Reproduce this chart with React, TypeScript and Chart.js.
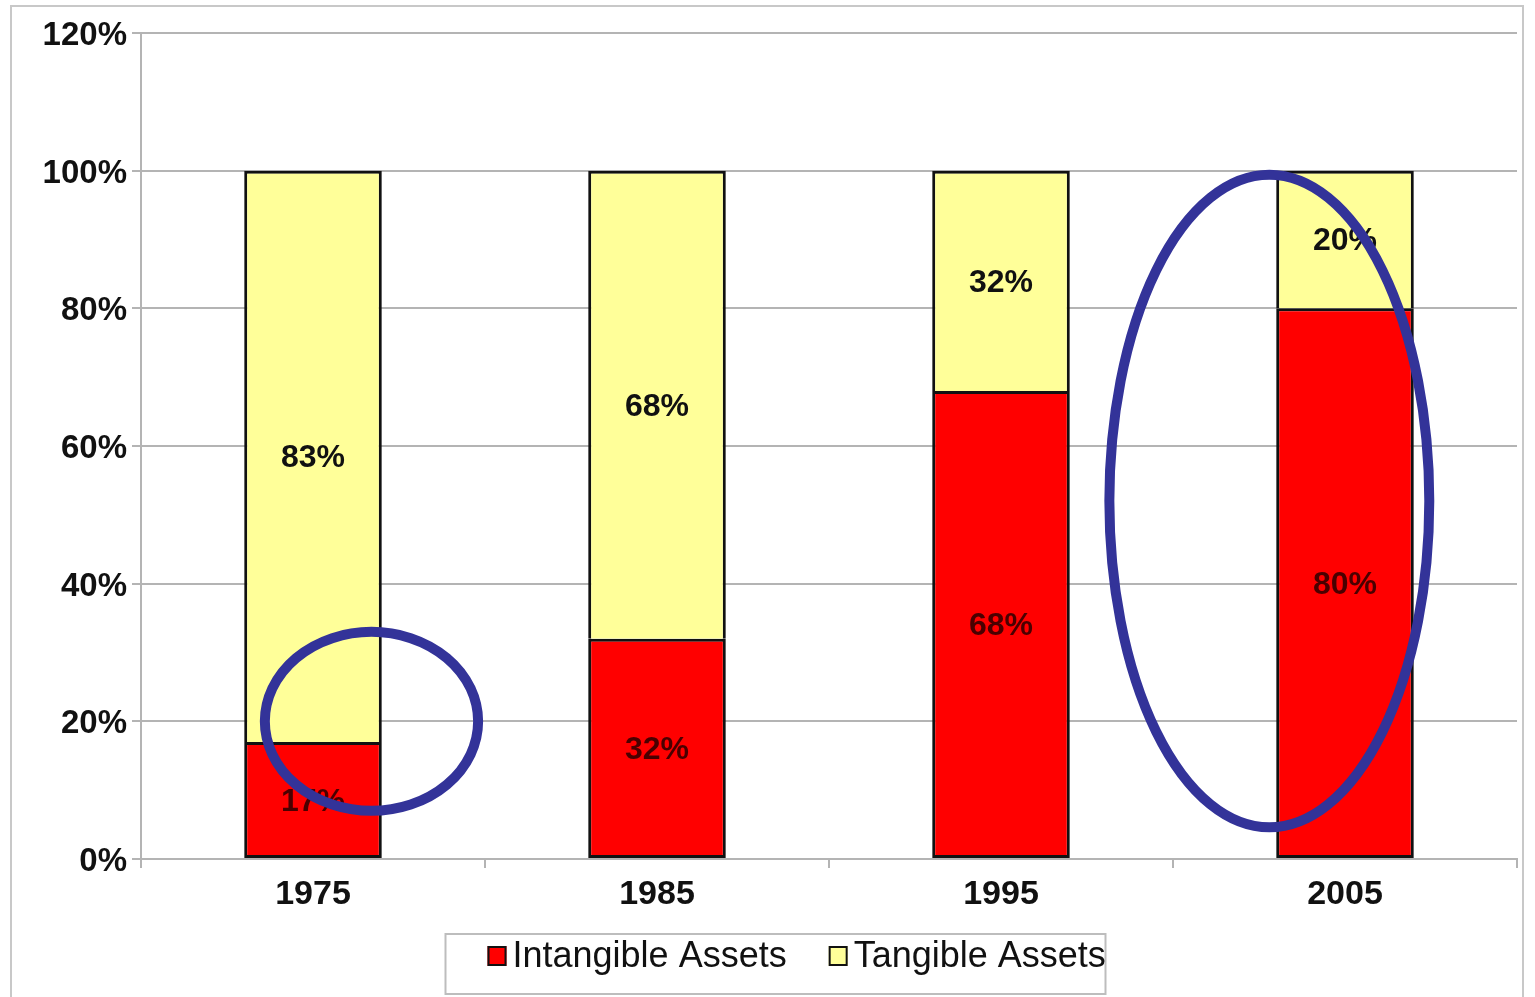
import React, { useEffect, useRef } from 'react';
import { Chart, registerables } from 'chart.js';

Chart.register(...registerables);

const categories = ['1975', '1985', '1995', '2005'];
const intangibleAssets = [17, 32, 68, 80];
const tangibleAssets = [83, 68, 32, 20];
const seriesLabels = ['Intangible Assets', 'Tangible Assets'];
const seriesColors = ['#ff0000', '#ffff99'];
const labelColors = ['#4a0000', '#111111'];
const yMax = 120;
const yStep = 20;

// Hand-drawn highlight ellipses (in data units: category index, percent)
const highlightCenterX = [0.17, 2.78];
const highlightCenterY = [20, 52];
const highlightRadiusX = [0.31, 0.465];
const highlightRadiusY = [13, 47.4];

const FONT = '"Liberation Sans", Arial, Helvetica, sans-serif';
const W = 1535;
const H = 997;

const decorPlugin = {
  id: 'decor',
  afterDatasetsDraw(chart: any) {
    const ctx = chart.ctx;
    chart.data.datasets.forEach((ds: any, di: number) => {
      const meta = chart.getDatasetMeta(di);
      meta.data.forEach((el: any, i: number) => {
        const p = el.getProps(['x', 'y', 'base'], true);
        ctx.save();
        ctx.font = `bold 32px ${FONT}`;
        ctx.fillStyle = labelColors[di];
        ctx.textAlign = 'center';
        ctx.textBaseline = 'middle';
        ctx.fillText(ds.data[i] + '%', p.x, (p.y + p.base) / 2 + 2);
        ctx.restore();
      });
    });
  },
  afterDraw(chart: any) {
    const ctx = chart.ctx;
    const area = chart.chartArea;
    // outer frame
    ctx.save();
    ctx.strokeStyle = '#c8c8c8';
    ctx.lineWidth = 2;
    ctx.strokeRect(11, 6, chart.width - 23, chart.height + 10);
    ctx.restore();

    // legend
    const boxW = 660;
    const boxLeft = chart.width / 2 + 8 - boxW / 2;
    const boxTop = area.bottom + 75;
    const boxH = chart.height - boxTop - 3;
    ctx.save();
    ctx.strokeStyle = '#bdbdbd';
    ctx.lineWidth = 2;
    ctx.strokeRect(boxLeft, boxTop, boxW, boxH);
    ctx.font = `36px ${FONT}`;
    ctx.textBaseline = 'middle';
    ctx.textAlign = 'left';
    let x = boxLeft + 42;
    const cy = boxTop + 22;
    chart.data.datasets.forEach((ds: any) => {
      ctx.fillStyle = ds.backgroundColor;
      ctx.fillRect(x, cy - 10, 19, 20);
      ctx.strokeStyle = '#111';
      ctx.lineWidth = 2;
      ctx.strokeRect(x + 1, cy - 9, 17, 18);
      x += 25;
      ctx.fillStyle = '#111';
      ctx.fillText(ds.label, x, cy + 1);
      x += ctx.measureText(ds.label).width + 42;
    });
    ctx.restore();

    // highlight ellipses
    const xs = chart.scales.x;
    const ys = chart.scales.y;
    ctx.save();
    ctx.strokeStyle = '#333399';
    ctx.lineWidth = 10;
    highlightCenterX.forEach((cx, i) => {
      const px = xs.getPixelForValue(cx);
      const py = ys.getPixelForValue(highlightCenterY[i]);
      const rx = Math.abs(xs.getPixelForValue(cx + highlightRadiusX[i]) - px);
      const ry = Math.abs(ys.getPixelForValue(highlightCenterY[i] + highlightRadiusY[i]) - py);
      ctx.beginPath();
      ctx.ellipse(px, py, rx, ry, 0, 0, Math.PI * 2);
      ctx.stroke();
    });
    ctx.restore();
  },
};

export default function App() {
  const ref = useRef<HTMLCanvasElement | null>(null);

  useEffect(() => {
    if (!ref.current) return;
    const gridColor = '#b4b4b4';
    const chart = new Chart(ref.current, {
      type: 'bar',
      data: {
        labels: categories,
        datasets: [
          {
            label: seriesLabels[0],
            data: intangibleAssets,
            backgroundColor: seriesColors[0],
            borderColor: '#111',
            borderWidth: 3,
            borderSkipped: false,
            barPercentage: 0.4,
            categoryPercentage: 1,
          },
          {
            label: seriesLabels[1],
            data: tangibleAssets,
            backgroundColor: seriesColors[1],
            borderColor: '#111',
            borderWidth: { top: 3, left: 3, right: 3, bottom: 0 },
            borderSkipped: false,
            barPercentage: 0.4,
            categoryPercentage: 1,
          },
        ],
      },
      options: {
        responsive: false,
        animation: false,
        devicePixelRatio: 1,
        layout: { padding: { left: 12, top: 33, right: 18, bottom: 63 } },
        plugins: {
          legend: { display: false },
          tooltip: { enabled: false },
        },
        scales: {
          x: {
            stacked: true,
            offset: true,
            grid: {
              display: true,
              drawOnChartArea: false,
              drawTicks: true,
              tickLength: 9,
              color: gridColor,
              lineWidth: 2,
              offset: true,
            },
            border: { display: true, color: gridColor, width: 2 },
            ticks: {
              color: '#111',
              padding: 6,
              font: { family: FONT, size: 34, weight: 'bold' },
            },
            afterFit: (s: any) => {
              s.height = 75;
            },
          },
          y: {
            stacked: true,
            min: 0,
            max: yMax,
            grid: {
              color: gridColor,
              lineWidth: 2,
              drawTicks: true,
              tickLength: 9,
            },
            border: { display: true, color: gridColor, width: 2 },
            ticks: {
              stepSize: yStep,
              color: '#111',
              padding: 5,
              labelOffset: 3,
              font: { family: FONT, size: 33, weight: 'bold' },
              callback: (v: any) => v + '%',
            },
            afterFit: (s: any) => {
              s.width = 129;
            },
          },
        },
      },
      plugins: [decorPlugin],
    });
    return () => chart.destroy();
  }, []);

  return (
    <div style={{ position: 'absolute', left: 0, top: 0, width: W, height: H, background: '#fff' }}>
      <canvas ref={ref} width={W} height={H} style={{ display: 'block', width: W, height: H }} />
    </div>
  );
}
